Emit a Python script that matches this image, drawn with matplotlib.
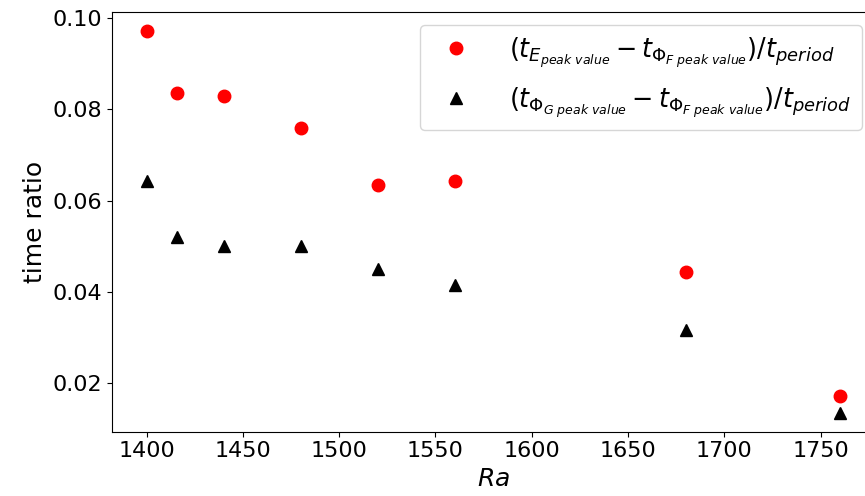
#!/usr/bin/env python3

import matplotlib
matplotlib.use("Agg")
import matplotlib.pyplot as plt

# valores
ra = [1400, 1416, 1440, 1480, 1520, 1560, 1680, 1760]
ratio_e = [0.0971, 0.0836, 0.0830, 0.0759, 0.0635, 0.0643, 0.0445, 0.0172]
ratio_g = [0.0644, 0.0521, 0.0501, 0.0501, 0.0451, 0.0416, 0.0318, 0.0136]

lab_e = r"$(t_{E_{peak\ value}} - t_{\Phi_{F\ peak\ value}})/t_{period}$"
lab_g = r"$(t_{\Phi_{G\ peak\ value}} - t_{\Phi_{F\ peak\ value}})/t_{period}$"

fig = plt.figure(figsize=(8.65, 4.96), dpi=100)
ax = fig.add_axes([0.1295, 0.1296, 0.8814, 0.8456])

ax.plot(ra, ratio_e, marker="o", linestyle=" ", color="red", markersize=9, label=lab_e)
ax.plot(ra, ratio_g, marker="^", linestyle=" ", color="black", markersize=8.5, label=lab_g)

ax.set_xlabel(r"$Ra$", fontsize=18)
ax.set_ylabel("time ratio", fontsize=18)
ax.tick_params(labelsize=16)
ax.legend(loc="upper right", fontsize=18.4, handletextpad=1.1, labelspacing=0.6)

fig.savefig("out.png", dpi=100)
